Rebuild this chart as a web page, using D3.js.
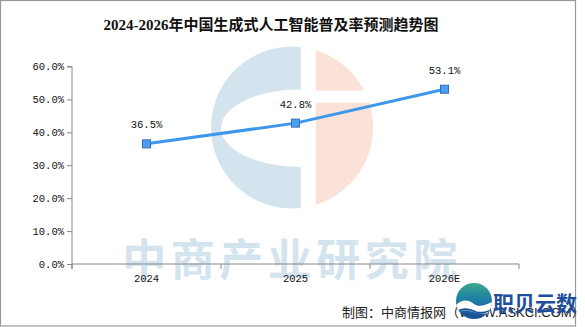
<!DOCTYPE html>
<html>
<head>
<meta charset="utf-8">
<script src="https://cdn.jsdelivr.net/npm/d3@7"></script>
<style>
  html, body { margin: 0; padding: 0; background: #fff; }
  svg { display: block; }
</style>
</head>
<body>
<svg id="chart" width="585" height="327"></svg>
<script>
// Penetration rate of generative AI in China, 2024–2026E (%)
const categories = ["2024", "2025", "2026E"];
const rates = [36.5, 42.8, 53.1];
const yTicks = [0, 10, 20, 30, 40, 50, 60];
const titleText = "2024-2026年中国生成式人工智能普及率预测趋势图";
const watermarkText = "中商产业研究院";
const creditText = "制图：中商情报网（WWW.ASKCI.COM）";
const badgeText = "职贝云数";

const svg = d3.select("#chart");
const W = 585, H = 327;
const plot = { left: 72, right: 519, top: 66.5, bottom: 264 };

const x = d3.scaleBand().domain(categories).range([plot.left, plot.right]).padding(0);
const y = d3.scaleLinear().domain([0, 60]).range([plot.bottom, plot.top]);

const defs = svg.append("defs");

// ---- background emblem ----
const emb = { cx: 292, cy: 127.5, r: 81 };
defs.append("clipPath").attr("id", "embClip")
  .append("circle").attr("cx", emb.cx).attr("cy", emb.cy).attr("r", emb.r);

const embG = svg.append("g");
// left "C" shaped half
const lx = 300.7;
const ldy = Math.sqrt(emb.r * emb.r - (lx - emb.cx) ** 2);
embG.append("path")
  .attr("fill", "#d3e4ee")
  .attr("fill-rule", "evenodd")
  .attr("d",
    `M${lx},${emb.cy - ldy} A${emb.r},${emb.r} 0 1 0 ${lx},${emb.cy + ldy} Z ` +
    `M${lx},89.3 A79.5,38.8 0 0 0 ${lx},167 Z`);
// right half with a horizontal notch
const peach = embG.append("g").attr("clip-path", "url(#embClip)").attr("fill", "#fae2d8");
peach.append("rect").attr("x", 315.7).attr("y", 40).attr("width", 70).attr("height", 90.7 - 40);
peach.append("rect").attr("x", 315.7).attr("y", 102.7).attr("width", 70).attr("height", 215 - 102.7);

// big watermark text
svg.append("text")
  .attr("x", 292).attr("y", 257)
  .attr("text-anchor", "middle")
  .attr("dominant-baseline", "central")
  .attr("font-family", "'Noto Sans CJK SC', sans-serif")
  .attr("font-weight", "bold")
  .attr("font-size", 44)
  .attr("letter-spacing", 4.5)
  .attr("fill", "#d3e4ee")
  .text(watermarkText);

// ---- frame ----
svg.append("rect")
  .attr("x", 0.5).attr("y", 0.5).attr("width", 575).attr("height", 325.5)
  .attr("fill", "none").attr("stroke", "#999").attr("stroke-width", 1.2);

// ---- title ----
svg.append("text")
  .attr("x", 271).attr("y", 25)
  .attr("text-anchor", "middle")
  .attr("dominant-baseline", "central")
  .attr("font-family", "'Liberation Serif', 'Noto Sans CJK SC', serif")
  .attr("font-weight", "bold")
  .attr("font-size", 15)
  .attr("fill", "#111")
  .text(titleText);

const tickFont = "'Liberation Mono', 'DejaVu Sans Mono', monospace";
const axisColor = "#888";

// ---- y axis ----
const yAxis = svg.append("g")
  .attr("transform", `translate(${plot.left},0)`)
  .call(d3.axisLeft(y).tickValues(yTicks).tickSize(5).tickPadding(3)
    .tickFormat(d => d.toFixed(1) + "%"));
yAxis.select(".domain").attr("stroke", axisColor).attr("d", `M-5,${plot.top}H0V${plot.bottom + 5}`);
yAxis.selectAll(".tick line").attr("stroke", axisColor);
yAxis.selectAll(".tick text")
  .attr("font-family", tickFont).attr("font-size", 10.5).attr("fill", "#111");

// ---- x axis (ticks sit on category boundaries) ----
const xAxis = svg.append("g")
  .attr("transform", `translate(0,${plot.bottom})`)
  .call(d3.axisBottom(x).tickSize(0).tickPadding(11));
xAxis.select(".domain").attr("stroke", axisColor).attr("d", `M${plot.left},0H${plot.right}`);
xAxis.selectAll(".tick text")
  .attr("font-family", tickFont).attr("font-size", 10.5).attr("fill", "#111");
const bounds = categories.map(c => x(c)).concat([x.range()[1]]);
xAxis.selectAll("line.bound").data(bounds).join("line")
  .attr("class", "bound")
  .attr("x1", d => d).attr("x2", d => d)
  .attr("y1", 0).attr("y2", 5)
  .attr("stroke", axisColor);

// ---- line series ----
const pts = categories.map((c, i) => ({ c, v: rates[i] }));
const cx = d => x(d.c) + x.bandwidth() / 2;

svg.append("path")
  .datum(pts)
  .attr("fill", "none")
  .attr("stroke", "#3d97ea")
  .attr("stroke-width", 3)
  .attr("stroke-linejoin", "round")
  .attr("d", d3.line().x(cx).y(d => y(d.v)));

const ms = 8;
svg.selectAll("rect.marker").data(pts).join("rect")
  .attr("class", "marker")
  .attr("x", d => cx(d) - ms / 2)
  .attr("y", d => y(d.v) - ms / 2)
  .attr("width", ms).attr("height", ms)
  .attr("fill", "#4a9ff0")
  .attr("stroke", "#2f6fb3")
  .attr("stroke-width", 1);

svg.selectAll("text.val").data(pts).join("text")
  .attr("class", "val")
  .attr("x", cx)
  .attr("y", d => y(d.v) - 18.5)
  .attr("text-anchor", "middle")
  .attr("dominant-baseline", "central")
  .attr("font-family", tickFont)
  .attr("font-size", 10.5)
  .attr("fill", "#111")
  .text(d => d.v.toFixed(1) + "%");

// ---- credit line ----
svg.append("text")
  .attr("x", 342).attr("y", 312)
  .attr("dominant-baseline", "central")
  .attr("font-family", "Arial, 'Liberation Sans', 'Noto Sans CJK SC', sans-serif")
  .attr("font-size", 13)
  .attr("fill", "#222")
  .text(creditText);

// ---- badge: globe icon + name ----
const grad = defs.append("linearGradient").attr("id", "globeGrad")
  .attr("x1", 0).attr("y1", 0).attr("x2", 0).attr("y2", 1);
grad.append("stop").attr("offset", "0%").attr("stop-color", "#3aa88c");
grad.append("stop").attr("offset", "45%").attr("stop-color", "#1f7fa6");
grad.append("stop").attr("offset", "100%").attr("stop-color", "#1b4f9a");
defs.append("clipPath").attr("id", "globeClip")
  .append("circle").attr("cx", 474).attr("cy", 301).attr("r", 18);

const globe = svg.append("g");
globe.append("circle").attr("cx", 474).attr("cy", 301).attr("r", 18).attr("fill", "url(#globeGrad)");
const waves = globe.append("g").attr("clip-path", "url(#globeClip)");
waves.append("path")
  .attr("fill", "#fff")
  .attr("d", "M452,309 C460,300 466,298 474,304 C480,308 486,305 496,300 L496,312 C486,314 478,314 470,311 C463,309 458,312 452,314 Z");
waves.append("path")
  .attr("fill", "none").attr("stroke", "#1b4f9a").attr("stroke-width", 1.6)
  .attr("d", "M454,313 C462,308 468,308 476,312 C482,314 488,312 496,308");
waves.append("path")
  .attr("fill", "none").attr("stroke", "#1b4f9a").attr("stroke-width", 1.4)
  .attr("d", "M454,317 C462,312 468,313 476,316 C482,318 488,316 496,313");

svg.append("text")
  .attr("x", 493).attr("y", 302)
  .attr("dominant-baseline", "central")
  .attr("font-family", "'Noto Sans CJK SC', sans-serif")
  .attr("font-weight", "bold")
  .attr("font-size", 21)
  .attr("fill", "#1d4f9e")
  .text(badgeText);
</script>
</body>
</html>
